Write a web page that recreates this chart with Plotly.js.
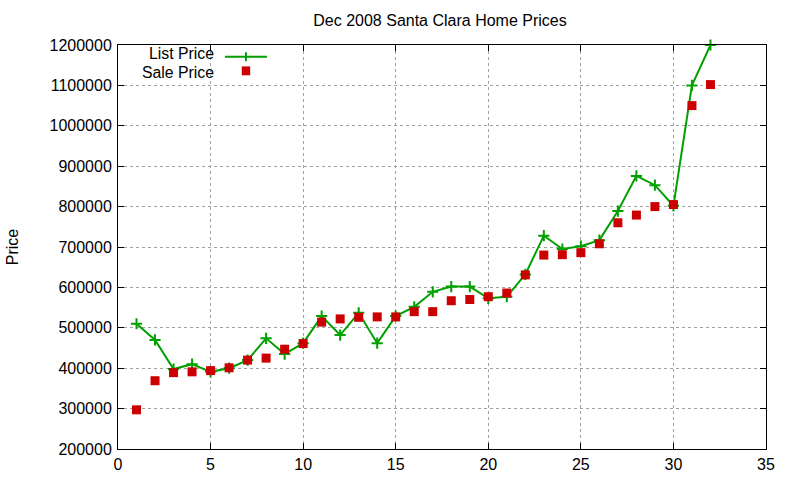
<!DOCTYPE html>
<html>
<head>
<meta charset="utf-8">
<script src="https://cdn.plot.ly/plotly-3.0.1.min.js"></script>
<style>
  html, body { margin: 0; padding: 0; background: #fff; }
  #myDiv { width: 800px; height: 480px; }
</style>
</head>
<body>
<div id="myDiv"></div>
<script>
// house number (x) and prices
var houses = [1, 2, 3, 4, 5, 6, 7, 8, 9, 10, 11, 12, 13, 14, 15, 16,
              17, 18, 19, 20, 21, 22, 23, 24, 25, 26, 27, 28, 29, 30, 31, 32];

var list_price = [510000, 470000, 398000, 410000, 391000, 400000, 420000, 474000,
                  435000, 462000, 529000, 482000, 537000, 462000, 529000, 552000,
                  589000, 602000, 602000, 573000, 577000, 632000, 728000, 695000,
                  702000, 717000, 789000, 876000, 853000, 802000, 1100000, 1200000];

var sale_price = [297000, 369000, 389000, 391000, 394000, 401000, 420000, 425000,
                  447000, 461000, 514000, 522000, 526000, 527000, 527000, 540000,
                  540000, 567000, 570000, 577000, 586000, 631000, 680000, 681000,
                  686000, 708000, 760000, 779000, 800000, 805000, 1050000, 1102000];

var x_ticks = [0, 5, 10, 15, 20, 25, 30, 35];
var y_ticks = [200000, 300000, 400000, 500000, 600000, 700000,
               800000, 900000, 1000000, 1100000, 1200000];

var green = '#00a000';
var red = '#cc0000';
var font = 'Liberation Sans, Arial, sans-serif';

var data = [
  {
    x: houses,
    y: list_price,
    type: 'scatter',
    mode: 'lines+markers',
    name: 'List Price',
    line: { color: green, width: 2 },
    marker: { symbol: 'cross-thin', size: 8, line: { color: green, width: 2 } },
    cliponaxis: false
  },
  {
    x: houses,
    y: sale_price,
    type: 'scatter',
    mode: 'markers',
    name: 'Sale Price',
    marker: { symbol: 'square', size: 9, color: red },
    cliponaxis: false
  }
];

var axisStyle = {
  showline: true,
  linecolor: '#000',
  linewidth: 1,
  mirror: 'ticks',
  ticks: 'inside',
  ticklen: 6,
  tickcolor: '#000',
  showgrid: true,
  gridcolor: '#a0a0a0',
  griddash: 'dot',
  gridwidth: 1,
  zeroline: false,
  tickfont: { family: font, size: 16, color: '#000' }
};

var layout = {
  width: 800,
  height: 480,
  margin: { l: 118, r: 34, t: 45, b: 31 },
  paper_bgcolor: '#fff',
  plot_bgcolor: '#fff',
  showlegend: false,
  font: { family: font, color: '#000' },
  title: {
    text: 'Dec 2008 Santa Clara Home Prices',
    font: { family: font, size: 16, color: '#000' },
    x: 0.55, xanchor: 'center',
    y: 0.958, yanchor: 'middle'
  },
  xaxis: Object.assign({}, axisStyle, {
    range: [0, 35],
    tickvals: x_ticks,
    ticklabelstandoff: 1
  }),
  yaxis: Object.assign({}, axisStyle, {
    range: [200000, 1200000],
    tickvals: y_ticks,
    tickformat: 'd',
    ticklabelstandoff: 2,
    title: { text: 'Price', font: { family: font, size: 16, color: '#000' }, standoff: 26 }
  }),
  // legend drawn by hand, gnuplot style: text on the left, key on the right
  annotations: [
    { xref: 'paper', yref: 'paper', x: 0.152, y: 0.978, xanchor: 'right', yanchor: 'middle',
      text: 'List Price', showarrow: false, font: { family: font, size: 15.8, color: '#000' } },
    { xref: 'paper', yref: 'paper', x: 0.152, y: 0.933, xanchor: 'right', yanchor: 'middle',
      text: 'Sale Price', showarrow: false, font: { family: font, size: 15.8, color: '#000' } }
  ],
  shapes: [
    { type: 'line', xref: 'paper', yref: 'paper', x0: 0.165, x1: 0.23, y0: 0.971, y1: 0.971,
      line: { color: green, width: 2 } },
    { type: 'line', xref: 'paper', yref: 'paper', x0: 0.1975, x1: 0.1975, y0: 0.96, y1: 0.982,
      line: { color: green, width: 2 } },
    { type: 'rect', xref: 'paper', yref: 'paper', x0: 0.191, x1: 0.204, y0: 0.925, y1: 0.947,
      fillcolor: red, line: { width: 0 } }
  ]
};

Plotly.newPlot('myDiv', data, layout, { staticPlot: true });
</script>
</body>
</html>
